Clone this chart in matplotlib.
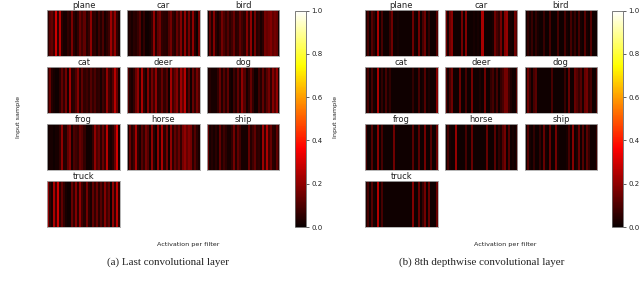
import matplotlib
matplotlib.use('Agg')
import matplotlib.pyplot as plt
import numpy as np

classes = ['plane', 'car', 'bird', 'cat', 'deer', 'dog', 'frog', 'horse', 'ship', 'truck']
tick_values = [0.0, 0.2, 0.4, 0.6, 0.8, 1.0]

# mean activation per filter
last_plane = [.05,.11,.13,.07,.29,.06,.26,.05,.02,.02,.06,.04,.17,.05,.02,.06,.14,.08,.13,.04,.07,.20,.05,.06,.02,.08,.04,.10,.02,.05,.08,.22,.10,.20,.06,.02]
last_car = [.02,.04,.02,.05,.04,.07,.11,.02,.06,.01,.01,.02,.06,.20,.04,.13,.16,.06,.05,.04,.11,.16,.06,.04,.14,.08,.18,.04,.20,.05,.16,.04,.20,.04,.00,.16]
last_bird = [.01,.13,.04,.18,.05,.02,.06,.16,.10,.06,.11,.05,.08,.14,.05,.06,.13,.08,.05,.18,.06,.20,.02,.16,.04,.06,.02,.05,.16,.14,.16,.18,.13,.16,.14,.01]
last_cat = [.06,.14,.04,.02,.01,.01,.05,.13,.06,.16,.02,.23,.04,.05,.10,.18,.04,.13,.06,.08,.05,.11,.06,.10,.05,.06,.02,.08,.05,.20,.08,.05,.11,.26,.13,.01]
last_deer = [.11,.04,.02,.06,.14,.20,.04,.24,.06,.02,.18,.05,.16,.08,.20,.05,.06,.14,.06,.11,.01,.23,.08,.13,.18,.06,.22,.13,.26,.04,.11,.01,.14,.06,.16,.10]
last_dog = [.02,.04,.02,.02,.02,.06,.14,.04,.11,.05,.13,.02,.01,.08,.04,.13,.05,.20,.11,.02,.06,.14,.06,.01,.01,.08,.04,.13,.05,.11,.16,.06,.18,.11,.20,.02]
last_frog = [.01,.02,.02,.01,.02,.02,.06,.20,.04,.04,.13,.18,.02,.10,.08,.06,.14,.11,.06,.01,.01,.01,.06,.20,.10,.14,.05,.14,.06,.26,.04,.02,.05,.14,.30,.02]
last_horse = [.02,.14,.04,.08,.23,.05,.02,.11,.06,.16,.11,.02,.20,.05,.01,.20,.04,.24,.05,.16,.01,.20,.05,.13,.08,.14,.06,.16,.20,.14,.18,.16,.05,.11,.05,.02]
last_ship = [.14,.02,.04,.02,.05,.02,.13,.04,.08,.05,.02,.02,.06,.16,.04,.13,.08,.02,.02,.02,.14,.04,.08,.13,.05,.06,.02,.22,.06,.24,.08,.14,.05,.04,.13,.06]
last_truck = [.20,.06,.02,.24,.08,.29,.05,.13,.06,.02,.01,.01,.14,.06,.18,.05,.20,.08,.04,.16,.05,.02,.13,.06,.14,.05,.11,.05,.18,.08,.13,.00,.20,.06,.26,.05]

dw_plane = [.02,.09,.01,.11,.06,.01,.24,.01,.09,.01,.01,.01,.07,.15,.01,.01,.02,.01,.01,.01,.01,.01,.01,.15,.02,.01,.16,.01,.09,.15,.01,.06,.01,.01,.01,.11]
dw_car = [.16,.03,.15,.19,.01,.01,.01,.01,.16,.01,.18,.01,.01,.01,.02,.01,.02,.01,.24,.01,.01,.01,.01,.02,.15,.09,.06,.16,.02,.18,.21,.03,.02,.01,.15,.11]
dw_bird = [.01,.06,.02,.07,.01,.06,.02,.01,.01,.07,.01,.01,.09,.01,.01,.01,.09,.01,.01,.09,.02,.01,.09,.02,.07,.01,.09,.02,.01,.11,.02,.01,.11,.01,.01,.01]
dw_cat = [.03,.09,.01,.09,.02,.01,.24,.01,.06,.01,.09,.02,.06,.01,.01,.01,.01,.01,.01,.01,.01,.01,.01,.06,.01,.01,.09,.01,.02,.11,.01,.03,.01,.01,.01,.18]
dw_deer = [.11,.02,.09,.15,.01,.01,.01,.15,.01,.01,.09,.01,.01,.16,.01,.01,.01,.03,.01,.15,.01,.01,.06,.09,.02,.09,.01,.06,.09,.16,.16,.07,.03,.01,.01,.11]
dw_dog = [.01,.15,.07,.01,.09,.12,.01,.01,.01,.01,.01,.01,.01,.09,.01,.01,.01,.01,.01,.07,.01,.14,.01,.01,.14,.11,.07,.11,.02,.14,.16,.06,.09,.01,.01,.09]
dw_frog = [.09,.01,.01,.11,.01,.01,.19,.01,.09,.01,.01,.01,.01,.01,.15,.01,.01,.01,.01,.01,.01,.01,.01,.12,.01,.01,.12,.01,.01,.16,.01,.01,.11,.01,.01,.15]
dw_horse = [.01,.09,.02,.01,.01,.21,.01,.01,.01,.01,.09,.01,.01,.14,.01,.01,.01,.01,.01,.01,.14,.01,.01,.01,.12,.01,.06,.03,.11,.16,.01,.11,.01,.02,.01,.06]
dw_ship = [.01,.11,.02,.01,.06,.01,.01,.06,.01,.14,.02,.01,.14,.01,.01,.16,.02,.01,.01,.01,.02,.09,.01,.19,.01,.03,.14,.01,.11,.01,.12,.06,.01,.01,.01,.07]
dw_truck = [.03,.09,.01,.11,.02,.01,.25,.01,.09,.01,.01,.01,.01,.01,.01,.01,.01,.01,.01,.01,.01,.01,.01,.18,.01,.01,.14,.01,.07,.16,.01,.14,.01,.01,.01,.14]

last_panels = [last_plane, last_car, last_bird, last_cat, last_deer, last_dog, last_frog, last_horse, last_ship, last_truck]
dw_panels = [dw_plane, dw_car, dw_bird, dw_cat, dw_deer, dw_dog, dw_frog, dw_horse, dw_ship, dw_truck]

W, H = 640, 285
plt.rcParams['font.family'] = 'DejaVu Sans'
fig = plt.figure(figsize=(W / 100, H / 100), dpi=100)


def px_axes(x0, y0, x1, y1):
    """Axes from pixel box, y measured from the top."""
    return fig.add_axes([x0 / W, 1 - y1 / H, (x1 - x0) / W, (y1 - y0) / H])


def draw_group(panels, left, cbar_left, xlabel_x, ylabel_x, caption, caption_x):
    im = None
    for i, (name, vals) in enumerate(zip(classes, panels)):
        row, col = i // 3, i % 3
        x0 = left + col * 79.8
        y0 = 10.3 + row * 57
        ax = px_axes(x0, y0, x0 + 72.5, y0 + 46)
        im = ax.imshow(np.array(vals)[None, :], cmap='hot', vmin=0, vmax=1,
                       aspect='auto', interpolation='nearest')
        ax.set_xticks([])
        ax.set_yticks([])
        for s in ax.spines.values():
            s.set_color('#aaaaaa')
            s.set_linewidth(0.6)
        ax.set_title(name, fontsize=6.0, pad=1.5, color='#222222')

    cax = px_axes(cbar_left, 10.5, cbar_left + 11.5, 227)
    cb = fig.colorbar(im, cax=cax)
    cb.set_ticks(tick_values)
    cb.ax.tick_params(labelsize=5.0, length=2.5, width=0.5, pad=1.5, colors='#222222')
    cb.outline.set_linewidth(0.6)
    cb.outline.set_edgecolor('#666666')

    fig.text(xlabel_x / W, 1 - 244.5 / H, 'Activation per filter', fontsize=4.6,
             ha='center', va='center', color='#222222')
    fig.text(ylabel_x / W, 1 - 117 / H, 'Input sample', fontsize=4.6, rotation=90,
             ha='center', va='center', color='#222222')
    fig.text(caption_x / W, 1 - 262 / H, caption, fontsize=7.9, ha='center', va='center',
             family='Liberation Serif', color='#222222')


draw_group(last_panels, 47.3, 294.5, 188, 18.5, '(a) Last convolutional layer', 168)
draw_group(dw_panels, 365, 611.5, 505, 336, '(b) 8th depthwise convolutional layer', 482)

fig.savefig('out.png', dpi=100)
